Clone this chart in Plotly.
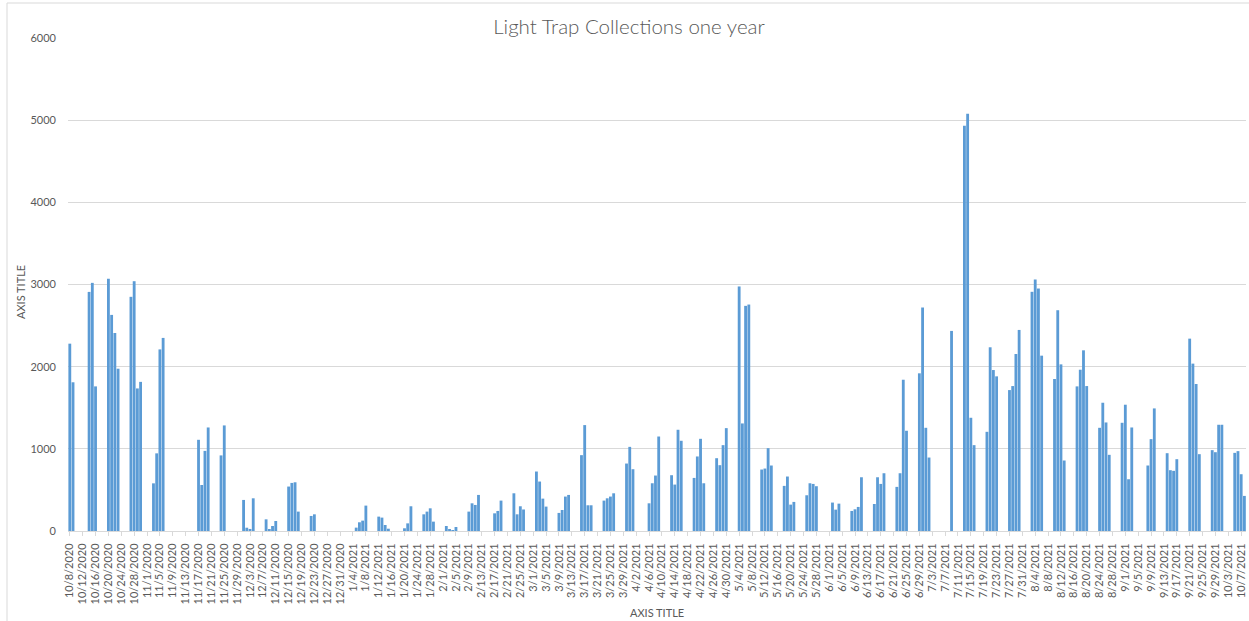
import pandas as pd
import plotly.graph_objects as go

# ---- data ----
dates = [
    "2020-10-08", "2020-10-09", "2020-10-14", "2020-10-15", "2020-10-16",
    "2020-10-20", "2020-10-21", "2020-10-22", "2020-10-23",
    "2020-10-27", "2020-10-28", "2020-10-29", "2020-10-30",
    "2020-11-03", "2020-11-04", "2020-11-05", "2020-11-06",
    "2020-11-17", "2020-11-18", "2020-11-19", "2020-11-20",
    "2020-11-24", "2020-11-25",
    "2020-12-01", "2020-12-02", "2020-12-03", "2020-12-04",
    "2020-12-08", "2020-12-09", "2020-12-10", "2020-12-11",
    "2020-12-15", "2020-12-16", "2020-12-17", "2020-12-18",
    "2020-12-22", "2020-12-23",
    "2021-01-05", "2021-01-06", "2021-01-07", "2021-01-08",
    "2021-01-12", "2021-01-13", "2021-01-14", "2021-01-15",
    "2021-01-20", "2021-01-21", "2021-01-22",
    "2021-01-26", "2021-01-27", "2021-01-28", "2021-01-29",
    "2021-02-02", "2021-02-03", "2021-02-04", "2021-02-05",
    "2021-02-09", "2021-02-10", "2021-02-11", "2021-02-12",
    "2021-02-17", "2021-02-18", "2021-02-19",
    "2021-02-23", "2021-02-24", "2021-02-25", "2021-02-26",
    "2021-03-02", "2021-03-03", "2021-03-04", "2021-03-05",
    "2021-03-09", "2021-03-10", "2021-03-11", "2021-03-12",
    "2021-03-16", "2021-03-17", "2021-03-18", "2021-03-19",
    "2021-03-23", "2021-03-24", "2021-03-25", "2021-03-26",
    "2021-03-30", "2021-03-31", "2021-04-01",
    "2021-04-06", "2021-04-07", "2021-04-08", "2021-04-09",
    "2021-04-13", "2021-04-14", "2021-04-15", "2021-04-16",
    "2021-04-20", "2021-04-21", "2021-04-22", "2021-04-23",
    "2021-04-27", "2021-04-28", "2021-04-29", "2021-04-30",
    "2021-05-04", "2021-05-05", "2021-05-06", "2021-05-07",
    "2021-05-11", "2021-05-12", "2021-05-13", "2021-05-14",
    "2021-05-18", "2021-05-19", "2021-05-20", "2021-05-21",
    "2021-05-25", "2021-05-26", "2021-05-27", "2021-05-28",
    "2021-06-02", "2021-06-03", "2021-06-04",
    "2021-06-08", "2021-06-09", "2021-06-10", "2021-06-11",
    "2021-06-15", "2021-06-16", "2021-06-17", "2021-06-18",
    "2021-06-22", "2021-06-23", "2021-06-24", "2021-06-25",
    "2021-06-29", "2021-06-30", "2021-07-01", "2021-07-02",
    "2021-07-09",
    "2021-07-13", "2021-07-14", "2021-07-15", "2021-07-16",
    "2021-07-20", "2021-07-21", "2021-07-22", "2021-07-23",
    "2021-07-27", "2021-07-28", "2021-07-29", "2021-07-30",
    "2021-08-03", "2021-08-04", "2021-08-05", "2021-08-06",
    "2021-08-10", "2021-08-11", "2021-08-12", "2021-08-13",
    "2021-08-17", "2021-08-18", "2021-08-19", "2021-08-20",
    "2021-08-24", "2021-08-25", "2021-08-26", "2021-08-27",
    "2021-08-31", "2021-09-01", "2021-09-02", "2021-09-03",
    "2021-09-08", "2021-09-09", "2021-09-10",
    "2021-09-14", "2021-09-15", "2021-09-16", "2021-09-17",
    "2021-09-21", "2021-09-22", "2021-09-23", "2021-09-24",
    "2021-09-28", "2021-09-29", "2021-09-30", "2021-10-01",
    "2021-10-05", "2021-10-06", "2021-10-07", "2021-10-08",
]

counts = [
    2280, 1810, 2910, 3020, 1760,
    3070, 2630, 2410, 1975,
    2850, 3040, 1735, 1815,
    580, 945, 2210, 2350,
    1110, 560, 975, 1260,
    920, 1285,
    378, 40, 25, 398,
    142, 24, 61, 122,
    541, 585, 593, 236,
    183, 203,
    41, 106, 126, 309,
    175, 163, 73, 28,
    33, 93, 301,
    203, 236, 276, 114,
    61, 24, 12, 49,
    236, 337, 317, 439,
    215, 244, 370,
    459, 203, 301, 262,
    724, 602, 394, 297,
    220, 256, 419, 439,
    923, 1289, 313, 313,
    370, 398, 419, 459,
    821, 1024, 752,
    337, 581, 675, 1150,
    679, 565, 1232, 1098,
    646, 907, 1122, 581,
    886, 801, 1045, 1252,
    2976, 1309, 2740, 2756,
    748, 760, 1008, 797,
    549, 663, 321, 354,
    435, 581, 573, 545,
    346, 260, 333,
    244, 264, 293, 654,
    329, 654, 573, 703,
    537, 703, 1841, 1220,
    1919, 2720, 1256, 894,
    2435,
    4931, 5077, 1378, 1045,
    1207, 2236, 1959, 1882,
    1715, 1764, 2154, 2447,
    2911, 3061, 2951, 2134,
    1850, 2687, 2028, 858,
    1760, 1963, 2199, 1764,
    1256, 1561, 1321, 927,
    1317, 1537, 630, 1260,
    797, 1118, 1492,
    947, 740, 732, 874,
    2341, 2037, 1789, 935,
    984, 959, 1293, 1293,
    951, 972, 691, 427,
]

first_day = "2020-10-08"
last_label_day = "2021-10-07"
tick_step_days = 4
y_ticks = [0, 1000, 2000, 3000, 4000, 5000, 6000]

title_text = "Light Trap Collections one year"
x_title = "AXIS TITLE"
y_title = "AXIS TITLE"

# ---- derived ----
x = pd.to_datetime(dates)
tick_dates = pd.date_range(first_day, last_label_day, freq=f"{tick_step_days}D")
tick_text = [f"{d.month}/{d.day}/{d.year}" for d in tick_dates]

base = pd.Timestamp(first_day)
x_start = base + pd.Timedelta(days=-0.56)
x_end = base + pd.Timedelta(days=365.5)

W, H = 1249, 621
L, R, T, B = 68, 3, 38, 90
plot_w = W - L - R
plot_h = H - T - B

GRAY = "#595959"
GRID = "#d9d9d9"
FONT = "Lato, 'Liberation Sans', sans-serif"

fig = go.Figure()
fig.add_trace(go.Bar(
    x=x, y=counts,
    width=0.88 * 86400000,
    marker=dict(color="#5B9BD5", line=dict(width=0)),
    hoverinfo="x+y",
))

fig.update_layout(
    width=W, height=H,
    margin=dict(l=L, r=R, t=T, b=B, pad=0),
    paper_bgcolor="white",
    plot_bgcolor="white",
    showlegend=False,
    font=dict(family=FONT, color=GRAY, size=11),
    title=dict(
        text=title_text,
        x=629 / W, xref="container", xanchor="center",
        y=1 - 27 / H, yref="container", yanchor="middle",
        font=dict(family=FONT, size=20.5, color=GRAY, weight=300),
    ),
    xaxis=dict(
        type="date",
        range=[x_start.strftime("%Y-%m-%d %H:%M:%S"), x_end.strftime("%Y-%m-%d %H:%M:%S")],
        tickmode="array",
        tickvals=list(tick_dates),
        ticktext=tick_text,
        tickangle=-90,
        tickfont=dict(family=FONT, size=11, color=GRAY),
        ticks="outside", ticklen=4, tickcolor=GRID, tickwidth=1,
        showline=True, linecolor=GRID, linewidth=1,
        showgrid=False, zeroline=False,
        ticklabelstandoff=3,
    ),
    yaxis=dict(
        range=[0, 6000],
        tickmode="array",
        tickvals=y_ticks,
        ticktext=[str(v) for v in y_ticks],
        tickfont=dict(family=FONT, size=11, color=GRAY),
        showgrid=True, gridcolor=GRID, gridwidth=1,
        zeroline=False, showline=False, ticks="",
        ticklabelstandoff=11,
    ),
    bargap=0.1,
)

# axis titles
fig.add_annotation(
    text=y_title, xref="paper", yref="paper",
    x=(20 - L) / plot_w, y=(H - B - 292) / plot_h,
    showarrow=False, textangle=-90,
    font=dict(family=FONT, size=11, color=GRAY),
    xanchor="center", yanchor="middle",
)
fig.add_annotation(
    text=x_title, xref="paper", yref="paper",
    x=(657 - L) / plot_w, y=(H - B - 612) / plot_h,
    showarrow=False,
    font=dict(family=FONT, size=11, color=GRAY),
    xanchor="center", yanchor="middle",
)

# chart-area border
fig.add_shape(
    type="rect", xref="paper", yref="paper",
    x0=(7 - L) / plot_w, x1=(1260 - L) / plot_w,
    y0=(H - B - 640) / plot_h, y1=(H - B - 3) / plot_h,
    line=dict(color=GRID, width=1), fillcolor="rgba(0,0,0,0)",
    layer="below",
)

fig.write_html(
    "out.html",
    config={"displayModeBar": False},
    post_script="document.body.style.margin='0';document.body.style.overflow='hidden';",
)
